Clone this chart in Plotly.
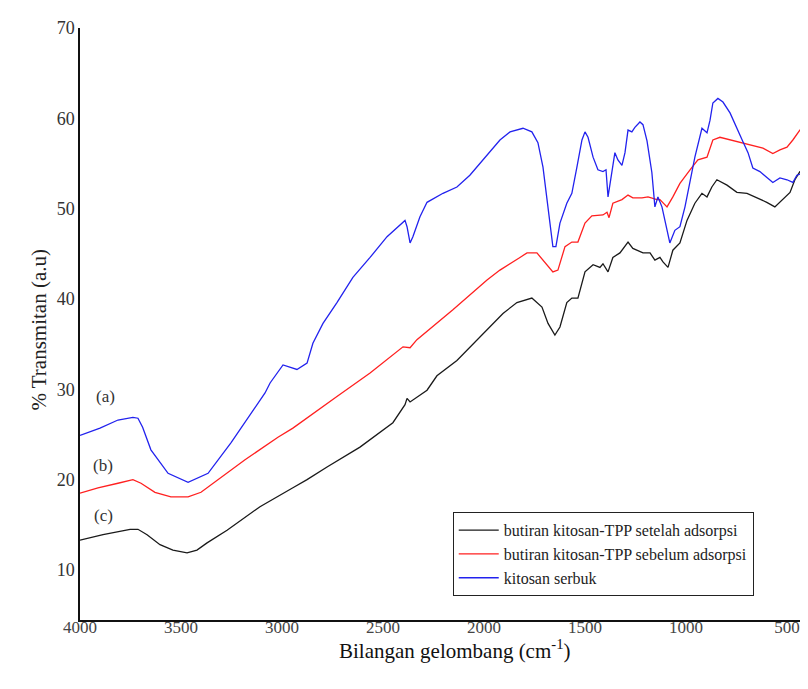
import plotly.graph_objects as go

# ---- data ----
wn_blue = [4000, 3901, 3812, 3738, 3713, 3690, 3649, 3564, 3465, 3366, 3252, 3084, 3059, 2995, 2926, 2876,
           2847, 2797, 2728, 2649, 2564, 2480, 2391, 2381, 2366, 2352, 2317, 2282, 2203, 2134, 2070, 2005,
           1921, 1871, 1822, 1807, 1763, 1733, 1708, 1683, 1659, 1644, 1624, 1590, 1565, 1540, 1515, 1500,
           1485, 1460, 1436, 1411, 1396, 1386, 1367, 1352, 1337, 1317, 1302, 1287, 1268, 1253, 1228, 1213,
           1193, 1169, 1154, 1139, 1119, 1094, 1080, 1055, 1030, 1005, 980, 956, 921, 896, 881, 867, 842,
           817, 782, 748, 718, 693, 669, 634, 600, 570, 535, 500, 471, 451, 426, 411, 396]
t_blue = [24.9, 25.7, 26.6, 26.9, 26.8, 25.8, 23.3, 20.7, 19.7, 20.7, 24.1, 29.6, 30.7, 32.7, 32.2, 32.9,
          35.1, 37.3, 39.6, 42.4, 44.6, 46.9, 48.7, 48.0, 46.2, 46.9, 49.1, 50.7, 51.7, 52.4, 53.7, 55.4,
          57.6, 58.5, 58.8, 58.9, 58.5, 57.3, 54.6, 50.2, 45.8, 45.8, 48.4, 50.6, 51.7, 54.6, 57.6, 58.5,
          57.9, 55.7, 54.3, 54.1, 54.3, 51.3, 53.9, 56.2, 55.4, 54.8, 56.2, 58.7, 58.5, 59.0, 59.6, 59.3,
          57.5, 54.0, 50.2, 51.3, 50.2, 47.6, 46.2, 47.6, 48.0, 50.2, 53.2, 55.7, 58.9, 58.4, 59.8, 61.7, 62.2,
          61.8, 60.6, 59.0, 57.4, 56.2, 54.5, 54.1, 53.5, 52.9, 53.4, 53.2, 52.9, 53.7, 53.9, 53.2, 52.6]

wn_red = [4000, 3911, 3812, 3738, 3698, 3629, 3550, 3465, 3401, 3317, 3183, 3020, 2946, 2728, 2564, 2401,
          2366, 2332, 2154, 1985, 1921, 1822, 1787, 1738, 1698, 1659, 1634, 1599, 1565, 1535, 1500, 1466,
          1411, 1391, 1381, 1362, 1317, 1287, 1263, 1218, 1188, 1144, 1129, 1094, 1065, 1030, 980, 941,
          896, 867, 832, 782, 733, 669, 619, 570, 535, 500, 471, 436, 411, 396]
t_red = [18.5, 19.1, 19.6, 20.0, 19.6, 18.6, 18.1, 18.1, 18.6, 20.0, 22.2, 24.7, 25.7, 29.2, 31.8, 34.7,
         34.6, 35.5, 38.8, 42.1, 43.2, 44.6, 45.1, 45.1, 44.0, 43.0, 43.2, 45.8, 46.3, 46.3, 48.4, 49.2,
         49.3, 49.6, 49.0, 50.6, 51.0, 51.5, 51.2, 51.2, 51.3, 51.0, 51.0, 50.2, 51.3, 52.8, 54.3, 55.4,
         55.7, 57.6, 57.9, 57.6, 57.3, 57.0, 56.7, 56.1, 56.5, 56.8, 57.6, 58.7, 58.5, 58.9]

wn_black = [4000, 3886, 3752, 3713, 3668, 3604, 3540, 3470, 3421, 3371, 3272, 3109, 2946, 2876, 2777, 2614,
            2451, 2391, 2381, 2366, 2282, 2233, 2134, 2005, 1906, 1837, 1763, 1713, 1683, 1649, 1624, 1590,
            1565, 1535, 1500, 1460, 1426, 1411, 1386, 1362, 1327, 1287, 1263, 1213, 1178, 1154, 1129, 1114,
            1089, 1065, 1030, 995, 956, 921, 896, 872, 847, 797, 748, 698, 649, 600, 560, 520, 485, 461,
            436, 411, 396]
t_black = [13.3, 13.9, 14.5, 14.5, 13.9, 12.8, 12.2, 11.9, 12.2, 13.0, 14.4, 17.0, 19.1, 20.0, 21.4, 23.6,
           26.3, 28.3, 29.0, 28.6, 29.9, 31.5, 33.2, 36.2, 38.4, 39.6, 40.1, 39.1, 37.3, 36.0, 36.9, 39.6,
           40.1, 40.1, 43.0, 43.8, 43.5, 43.9, 43.0, 44.6, 45.1, 46.3, 45.6, 45.1, 45.1, 44.3, 44.6, 44.1,
           43.5, 45.4, 46.2, 48.7, 50.6, 51.7, 51.3, 52.4, 53.2, 52.6, 51.8, 51.7, 51.2, 50.7, 50.2, 51.0, 51.8, 53.2,
           54.1, 54.3, 53.7]

names = ["butiran kitosan-TPP setelah adsorpsi", "butiran kitosan-TPP sebelum adsorpsi", "kitosan serbuk"]
x_ticks = [4000, 3500, 3000, 2500, 2000, 1500, 1000, 500]
y_ticks = [10, 20, 30, 40, 50, 60, 70]
curve_labels = ["(a)", "(b)", "(c)"]
label_y = [29.2, 21.6, 16.0]
label_x = [3876, 3886, 3886]

SERIF = "Liberation Serif"
X_RANGE = [4000, 396]

fig = go.Figure()
fig.add_trace(go.Scatter(x=wn_black, y=t_black, mode="lines", name=names[0],
                         line=dict(color="#1a1a1a", width=1.3)))
fig.add_trace(go.Scatter(x=wn_red, y=t_red, mode="lines", name=names[1],
                         line=dict(color="#ff2020", width=1.3)))
fig.add_trace(go.Scatter(x=wn_blue, y=t_blue, mode="lines", name=names[2],
                         line=dict(color="#2222ee", width=1.3)))

for txt, lx, ly in zip(curve_labels, label_x, label_y):
    fig.add_annotation(x=lx, y=ly, text=txt, showarrow=False,
                       font=dict(family=SERIF, size=17, color="#333333"))

fig.add_annotation(xref="paper", yref="paper", x=0.515, y=-0.05, yanchor="middle",
                   text="Bilangan gelombang (cm<sup>-1</sup>)", showarrow=False,
                   font=dict(family=SERIF, size=21, color="#111111"))
fig.add_annotation(xref="paper", yref="paper", x=-0.076, y=0.49, textangle=-90,
                   text="% Transmitan (a.u)", showarrow=False,
                   font=dict(family=SERIF, size=21, color="#222222"))

# page body has an 8px margin: figure is placed at (8, 8) in the window
fig.update_layout(
    width=800, height=681,
    margin=dict(l=72, r=0, t=20, b=69, autoexpand=False),
    paper_bgcolor="white", plot_bgcolor="white",
    font=dict(family=SERIF, color="#333333"),
    showlegend=True,
    legend=dict(x=0.512, y=0.182, xanchor="left", yanchor="top",
                bgcolor="white", bordercolor="#222222", borderwidth=1,
                font=dict(family=SERIF, size=16, color="#222222"),
                tracegroupgap=0, itemwidth=40, entrywidth=330, entrywidthmode="pixels"),
    xaxis=dict(range=X_RANGE, tickvals=x_ticks, ticks="", showgrid=False, zeroline=False,
               showline=True, linecolor="#111111", linewidth=1.5, automargin=False,
               showticklabels=False),
    xaxis2=dict(range=X_RANGE, matches="x", overlaying="x", anchor="free", position=0.008,
                side="bottom", tickvals=x_ticks, ticks="", showgrid=False, zeroline=False,
                showline=False, automargin=False,
                tickfont=dict(family=SERIF, size=17, color="#444444")),
    yaxis=dict(range=[4.46, 70], tickvals=y_ticks, ticks="", showgrid=False, zeroline=False,
               showline=True, linecolor="#111111", linewidth=1.5, automargin=False,
               tickfont=dict(family=SERIF, size=18, color="#333333")),
)
# an invisible helper trace so the label axis is drawn
fig.add_trace(go.Scatter(x=[X_RANGE[0]], y=[t_black[0]], xaxis="x2", mode="markers",
                         marker=dict(opacity=0), showlegend=False, hoverinfo="skip"))

fig.write_html("out.html")
